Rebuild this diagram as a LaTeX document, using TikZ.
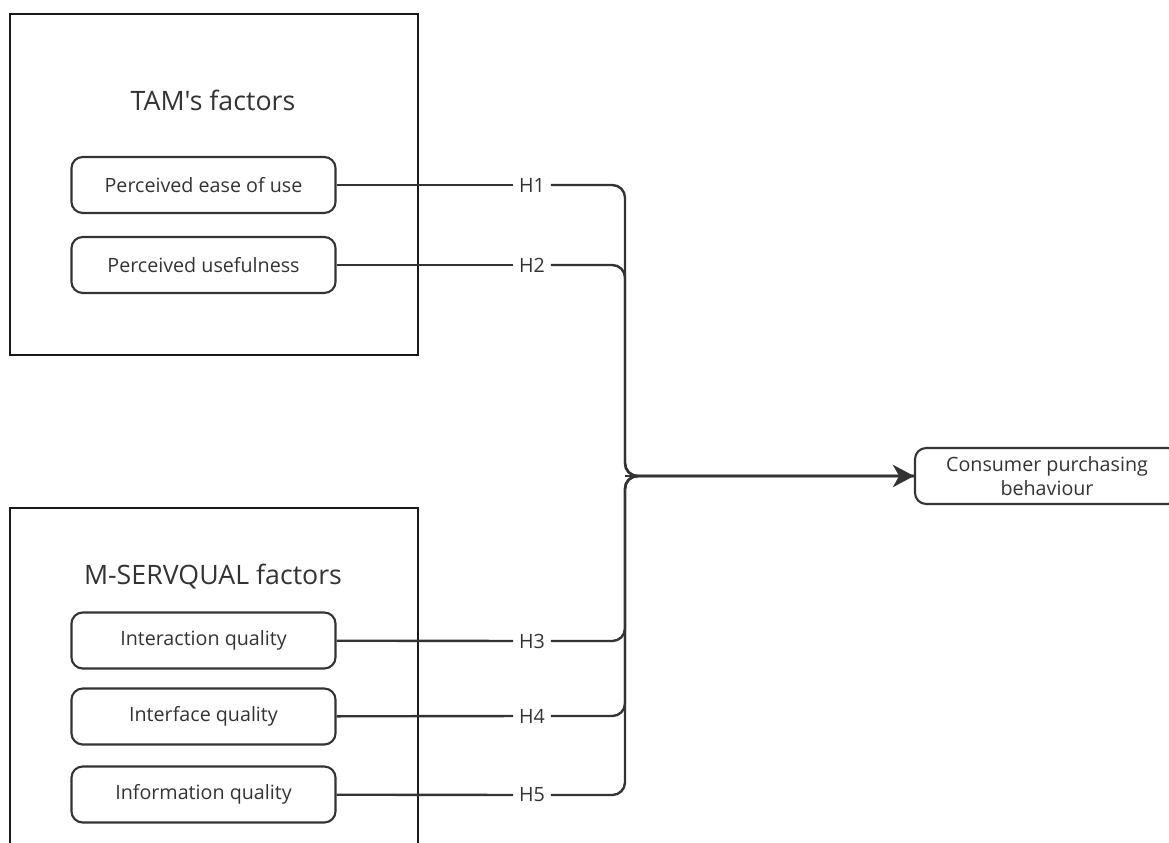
\documentclass[tikz,border=0pt]{standalone}
\usepackage{fontspec}
\setmainfont{Open Sans}
\newfontfamily\diagfont{Open Sans}
\usepackage{tikz}
\usetikzlibrary{arrows.meta, positioning}
\definecolor{inkgray}{HTML}{333333}

\begin{document}
\begin{tikzpicture}[
    x=0.025cm, y=-0.025cm,
    group/.style={rectangle, draw=black!90, line width=1.8pt},
    title/.style={font=\diagfont\fontsize{19}{23}\selectfont, text=inkgray},
    factor/.style={rectangle, rounded corners=8pt, draw=inkgray, line width=1.5pt, minimum width=6.6cm, minimum height=1.4cm, font=\diagfont\fontsize{14}{17}\selectfont, text=inkgray},
    hyp/.style={font=\diagfont\fontsize{14}{17}\selectfont, text=inkgray, inner sep=4pt},
    conn/.style={line width=1.7pt, inkgray, rounded corners=9pt}
]
\useasboundingbox (0,0) rectangle (1169,842);

\node[group, minimum width=10.2cm, minimum height=8.525cm] (TAM) at (214,184.5) {};
\node[group, minimum width=10.2cm, minimum height=9.5cm] (MSQ) at (214,698) {};
\node[title] (TAMtitle) at (213,100) {TAM's factors};
\node[title] (MSQtitle) at (213,577) {M-SERVQUAL factors};

\node[factor] (PEU) at (203.5,185) {Perceived ease of use};
\node[factor] (PU) at (203.5,265) {Perceived usefulness};
\node[factor] (IQ) at (203.5,640.5) {Interaction quality};
\node[factor] (IFQ) at (203.5,716.5) {Interface quality};
\node[factor] (INQ) at (203.5,794.5) {Information quality};

\node[factor, align=center] (CPB) at (1047,476) {Consumer purchasing\\behaviour};

\node[hyp] (H1) at (532,185) {H1};
\node[hyp] (H2) at (532,265) {H2};
\node[hyp] (H3) at (532,641) {H3};
\node[hyp] (H4) at (532,716) {H4};
\node[hyp] (H5) at (532,795) {H5};

\coordinate (J) at (625,476);

\draw[conn] (PEU) -- (H1);
\draw[conn] (PU) -- (H2);
\draw[conn] (IQ) -- (H3);
\draw[conn] (IFQ) -- (H4);
\draw[conn] (INQ) -- (H5);

\draw[conn] (H1) -| (J) -- (CPB.west);
\draw[conn] (H2) -| (J) -- (CPB.west);
\draw[conn] (H3) -| (J) -- (CPB.west);
\draw[conn] (H4) -| (J) -- (CPB.west);
\draw[conn] (H5) -| (J) -- (CPB.west);
\draw[conn, -{Stealth[length=15pt, width=16pt, inset=4.5pt]}] (J) -- (CPB.west);
\end{tikzpicture}
\end{document}
